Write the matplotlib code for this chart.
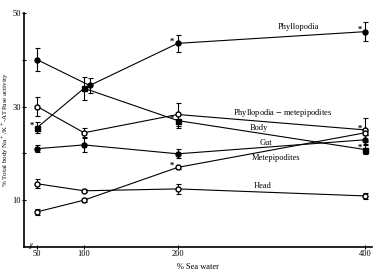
import numpy as np
import matplotlib
matplotlib.use("Agg")
import matplotlib.pyplot as plt

plt.rcParams['font.family'] = ['Liberation Serif', 'DejaVu Serif']
plt.rcParams['mathtext.fontset'] = 'stix'

# % sea water
x = [50, 100, 200, 400]
x_phyl = [50, 106, 200, 400]

phyllopodia = [40.0, 34.5, 43.5, 46.0]
phyllopodia_err = [2.5, 1.6, 1.8, 2.0]
body = [25.5, 33.9, 27.0, 20.8]
body_err = [1.2, 2.5, 1.5, 1.0]
phyl_met = [30.0, 24.4, 28.3, 25.0]
phyl_met_err = [2.0, 1.0, 2.5, 2.5]
gut = [21.0, 21.8, 19.9, 22.9]
gut_err = [0.8, 1.5, 1.0, 1.0]
metep = [7.5, 10.0, 17.0, 24.4]
metep_err = [0.6, 0.5, 0.4, 0.5]
head = [13.5, 12.0, 12.4, 10.9]
head_err = [1.0, 0.3, 1.0, 0.6]

fig = plt.figure(figsize=(3.76, 2.75), dpi=100)
ax = fig.add_axes([0.064, 0.102, 0.925, 0.851])

kw = dict(color='k', lw=0.8, elinewidth=0.8, capsize=1.8, capthick=0.8, markersize=3.6)
ax.errorbar(x_phyl, phyllopodia, yerr=phyllopodia_err, fmt='-o', mfc='k', **kw)
ax.errorbar(x, body, yerr=body_err, fmt='-s', mfc='k', **kw)
ax.errorbar(x, phyl_met, yerr=phyl_met_err, fmt='-o', mfc='white', **kw)
ax.errorbar(x, gut, yerr=gut_err, fmt='-o', mfc='k', **kw)
ax.errorbar(x, metep, yerr=metep_err, fmt='-o', mfc='white', **kw)
ax.errorbar(x, head, yerr=head_err, fmt='-o', mfc='white', **kw)

# significance asterisks
stars = [(x_phyl, phyllopodia, 2), (x_phyl, phyllopodia, 3),
         (x, body, 0), (x, body, 2), (x, body, 3),
         (x, metep, 2), (x, phyl_met, 3)]
for xs, ys, i in stars:
    ax.annotate('*', (xs[i], ys[i]), xytext=(-4, 1), textcoords='offset points',
                ha='center', va='center', fontsize=6, fontweight='bold')

# line labels
fs = 6
ax.text(329, 46.9, 'Phyllopodia', fontsize=fs, ha='center', va='center')
ax.text(312, 28.7, 'Phyllopodia $-$ metepipodites', fontsize=fs, ha='center', va='center')
ax.text(287, 25.5, 'Body', fontsize=fs, ha='center', va='center')
ax.text(294, 22.3, 'Gut', fontsize=fs, ha='center', va='center')
ax.text(305, 19.0, 'Metepipodites', fontsize=fs, ha='center', va='center')
ax.text(291, 13.1, 'Head', fontsize=fs, ha='center', va='center')

ax.set_xlim(36, 407)
ax.set_ylim(0, 50)
ax.set_xticks(x)
ax.set_xticklabels(['50', '100', '200', '400'])
ax.set_yticks([10, 20, 30, 40, 50])
ax.set_yticklabels(['10', '', '30', '', '50'])
ax.tick_params(labelsize=6, direction='inout', length=3, width=0.8, pad=1)
for s in ['top', 'right']:
    ax.spines[s].set_visible(False)
for s in ['left', 'bottom']:
    ax.spines[s].set_linewidth(1.2)

# axis break marks
ax.text(43, 0, '//', fontsize=6, ha='center', va='center', fontweight='bold')

ax.set_xlabel('% Sea water', fontsize=6, labelpad=3)
ax.set_ylabel(r'% Total body Na$^+$/K$^+$-ATPase activity', fontsize=5)
ax.yaxis.set_label_coords(-0.038, 0.5)

fig.savefig('out.png', dpi=100)
